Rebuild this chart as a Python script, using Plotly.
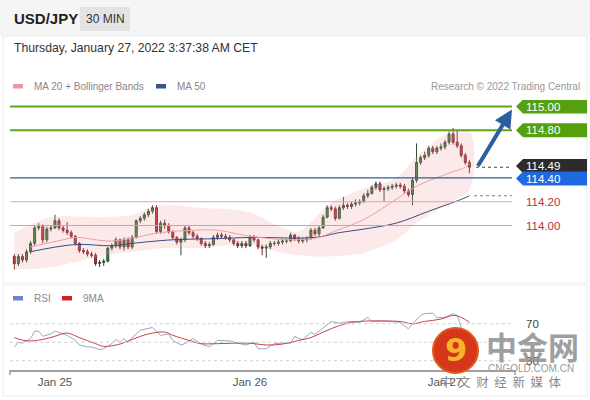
import plotly.graph_objects as go
import pandas as pd

# ---------------- data ----------------
start = "2022-01-24 19:00"   # first 30-min bar

opens = [113.74, 113.68, 113.74, 113.71, 113.78, 113.85, 113.98, 113.99, 113.88, 113.97,
         113.98, 114.04, 113.98, 113.96, 113.94, 113.91, 113.85, 113.79, 113.78, 113.76,
         113.75, 113.68, 113.69, 113.70, 113.81, 113.83, 113.88, 113.82, 113.88, 113.82,
         113.90, 114.04, 114.06, 114.09, 114.12, 114.15, 113.95, 114.02, 114.00, 113.95,
         113.90, 113.86, 113.88, 113.98, 113.94, 113.91, 113.89, 113.85, 113.83, 113.84,
         113.90, 113.92, 113.91, 113.90, 113.88, 113.85, 113.83, 113.85, 113.83, 113.90,
         113.88, 113.82, 113.81, 113.82, 113.85, 113.85, 113.86, 113.87, 113.87, 113.92,
         113.89, 113.87, 113.88, 113.89, 113.96, 113.93, 113.98, 114.07, 114.15, 114.14,
         114.06, 114.15, 114.17, 114.16, 114.18, 114.19, 114.20, 114.25, 114.27, 114.32,
         114.35, 114.30, 114.31, 114.32, 114.33, 114.34, 114.33, 114.29, 114.26, 114.38,
         114.53, 114.57, 114.59, 114.65, 114.62, 114.65, 114.66, 114.70, 114.77, 114.70,
         114.67, 114.59, 114.53]
highs = [113.76, 113.76, 113.76, 113.80, 113.87, 114.00, 114.02, 114.01, 113.99, 114.00,
         114.09, 114.06, 114.00, 114.03, 113.96, 113.92, 113.86, 113.81, 113.80, 113.78,
         113.77, 113.71, 113.72, 113.82, 113.85, 113.90, 113.89, 113.90, 113.90, 113.92,
         114.05, 114.08, 114.11, 114.14, 114.17, 114.17, 114.04, 114.05, 114.02, 113.96,
         113.91, 113.90, 114.00, 114.00, 113.96, 113.93, 113.90, 113.87, 113.86, 113.92,
         113.94, 113.94, 113.93, 113.92, 113.89, 113.87, 113.87, 113.87, 113.92, 113.92,
         113.89, 113.84, 113.84, 113.87, 113.87, 113.88, 113.89, 113.89, 113.94, 113.93,
         113.91, 113.90, 113.91, 113.98, 113.98, 114.00, 114.09, 114.17, 114.17, 114.16,
         114.17, 114.24, 114.19, 114.20, 114.22, 114.22, 114.27, 114.30, 114.34, 114.37,
         114.37, 114.33, 114.34, 114.35, 114.36, 114.36, 114.35, 114.31, 114.40, 114.69,
         114.59, 114.62, 114.67, 114.67, 114.67, 114.69, 114.72, 114.79, 114.82, 114.80,
         114.69, 114.61, 114.55]
lows = [113.63, 113.66, 113.69, 113.69, 113.76, 113.83, 113.96, 113.85, 113.86, 113.95,
        113.97, 113.96, 113.94, 113.92, 113.89, 113.83, 113.77, 113.76, 113.74, 113.73,
        113.66, 113.65, 113.66, 113.69, 113.79, 113.81, 113.80, 113.79, 113.80, 113.80,
        113.89, 114.02, 114.04, 114.07, 114.10, 113.93, 113.93, 113.97, 113.93, 113.88,
        113.84, 113.75, 113.86, 113.92, 113.89, 113.87, 113.83, 113.81, 113.81, 113.83,
        113.88, 113.89, 113.88, 113.86, 113.83, 113.81, 113.81, 113.81, 113.82, 113.86,
        113.80, 113.75, 113.73, 113.80, 113.83, 113.83, 113.84, 113.85, 113.86, 113.87,
        113.85, 113.85, 113.86, 113.88, 113.91, 113.91, 113.97, 114.06, 114.12, 114.04,
        114.05, 114.13, 114.14, 114.14, 114.16, 114.17, 114.19, 114.23, 114.26, 114.30,
        114.28, 114.20, 114.29, 114.30, 114.31, 114.31, 114.27, 114.24, 114.17, 114.36,
        114.51, 114.55, 114.57, 114.60, 114.60, 114.63, 114.64, 114.68, 114.68, 114.65,
        114.57, 114.51, 114.44]
closes = [113.68, 113.74, 113.71, 113.78, 113.85, 113.98, 113.99, 113.88, 113.97, 113.98,
          114.04, 113.98, 113.96, 113.94, 113.91, 113.85, 113.79, 113.78, 113.76, 113.75,
          113.68, 113.69, 113.70, 113.81, 113.83, 113.88, 113.82, 113.88, 113.82, 113.90,
          114.04, 114.06, 114.09, 114.12, 114.15, 113.95, 114.02, 114.00, 113.95, 113.90,
          113.86, 113.88, 113.98, 113.94, 113.91, 113.89, 113.85, 113.83, 113.84, 113.90,
          113.92, 113.91, 113.90, 113.88, 113.85, 113.83, 113.85, 113.83, 113.90, 113.88,
          113.82, 113.81, 113.82, 113.85, 113.85, 113.86, 113.87, 113.87, 113.92, 113.89,
          113.87, 113.88, 113.89, 113.96, 113.93, 113.98, 114.07, 114.15, 114.14, 114.06,
          114.15, 114.17, 114.16, 114.18, 114.19, 114.20, 114.25, 114.27, 114.32, 114.35,
          114.30, 114.31, 114.32, 114.33, 114.34, 114.33, 114.29, 114.26, 114.38, 114.53,
          114.57, 114.59, 114.65, 114.62, 114.65, 114.66, 114.70, 114.77, 114.70, 114.67,
          114.59, 114.53, 114.49]

# indicator readings (bar index -> value)
ma20_idx = [4, 12, 15, 24, 36, 44, 50, 58, 68, 75, 78, 86, 94, 99, 107, 111, 112]
ma20_val = [113.82, 113.88, 113.90, 113.87, 113.94, 113.96, 113.96, 113.91, 113.88, 113.90,
            113.94, 114.05, 114.22, 114.33, 114.44, 114.49, 114.52]
ma50_idx = [4, 15, 24, 29, 39, 50, 58, 74, 80, 86, 94, 102, 110, 112]
ma50_val = [113.78, 113.84, 113.83, 113.85, 113.88, 113.89, 113.90, 113.90, 113.94, 113.97,
            114.02, 114.12, 114.22, 114.25]
bb_up_idx = [0, 9, 21, 29, 35, 46, 58, 66, 70, 78, 86, 94, 99, 107, 112]
bb_up_val = [113.94, 114.07, 114.07, 114.09, 114.17, 114.15, 114.11, 113.98, 113.95, 114.19,
             114.31, 114.40, 114.58, 114.78, 114.79]
bb_lo_idx = [0, 9, 21, 29, 38, 46, 58, 66, 74, 82, 86, 94, 99, 107, 112]
bb_lo_val = [113.63, 113.65, 113.74, 113.78, 113.81, 113.81, 113.84, 113.77, 113.74, 113.75,
             113.77, 113.88, 114.02, 114.19, 114.30]

rsi_idx = [0, 1, 2, 4, 5, 6, 7, 9, 10, 12, 13, 15, 16, 18, 19, 21, 22, 24, 25, 26, 27, 28,
           29, 31, 33, 34, 36, 38, 39, 41, 42, 44, 46, 48, 50, 53, 55, 57, 59, 60, 62, 64,
           66, 68, 69, 70, 71, 73, 74, 76, 78, 80, 81, 83, 85, 87, 88, 91, 93, 95, 97, 98,
           100, 101, 103, 104, 106, 108, 109, 110, 111, 112]
rsi_val = [45, 50, 49, 54, 62, 62, 56.5, 59, 62, 59, 57.5, 52, 47, 45, 45, 42, 43, 48.5, 53,
           50, 54, 50, 55, 63, 64.5, 66, 57.5, 59, 52, 47, 48.5, 54, 48, 45, 52, 51.5, 49,
           47, 50, 43, 43, 48.5, 49, 49, 56.5, 54, 53, 60.5, 58.5, 66, 72.5, 70.5, 71.5,
           72.5, 71.5, 77, 72.5, 73, 72.5, 71.5, 64.5, 70, 79, 81, 81.5, 76.5, 77, 81, 79,
           66, 57, 50]
rsi_ma_idx = [0, 3, 7, 10, 13, 16, 20, 22, 26, 29, 33, 37, 39, 43, 46, 50, 54, 58, 62, 66,
              70, 73, 76, 80, 83, 87, 91, 95, 98, 101, 105, 108, 110, 112]
rsi_ma_val = [55, 51.5, 53, 56.5, 60, 55, 48.5, 45.5, 48, 53, 59, 61, 57.5, 52, 48.5, 48.5,
              49, 49, 47, 48, 52, 55, 61, 68, 71.5, 73, 73, 72.5, 70, 72.5, 75, 79, 77, 71.5]

levels = [115.00, 114.80, 114.40, 114.20, 114.00]
last_price = 114.49
tick_days = ["2022-01-25", "2022-01-26", "2022-01-27"]
tick_text = ["Jan 25", "Jan 26", "Jan 27"]

# ---------------- helpers (layout only) ----------------
W, H = 590, 400
L, R = 10, 515
def px(x):
    return (x - L) / (R - L)
def py(y):
    return 1 - y / H

times = pd.date_range(start, periods=len(closes), freq="30min")
def T(idx):
    return [times[i] for i in idx]

FONT = "Liberation Sans, Arial, sans-serif"

fig = go.Figure()

# Bollinger band cloud
fig.add_trace(go.Scatter(
    x=T(bb_up_idx) + T(bb_lo_idx)[::-1], y=bb_up_val + bb_lo_val[::-1],
    fill="toself", fillcolor="rgba(240,160,165,0.22)", line=dict(width=0),
    mode="lines", line_shape="spline", hoverinfo="skip", showlegend=False))
# MA50
fig.add_trace(go.Scatter(x=T(ma50_idx), y=ma50_val, mode="lines", line_shape="spline",
                         line=dict(color="#3b4a80", width=1), showlegend=False))
# MA20
fig.add_trace(go.Scatter(x=T(ma20_idx), y=ma20_val, mode="lines", line_shape="spline",
                         line=dict(color="#eaa2a6", width=1), showlegend=False))
# candles
fig.add_trace(go.Candlestick(
    x=times, open=opens, high=highs, low=lows, close=closes,
    increasing=dict(fillcolor="#3f8a3c", line=dict(color="#2c4a2c", width=1)),
    decreasing=dict(fillcolor="#cc3340", line=dict(color="#7a2228", width=1)),
    whiskerwidth=0, showlegend=False))

# RSI panel
fig.add_trace(go.Scatter(x=T(rsi_idx), y=rsi_val, yaxis="y2", mode="lines",
                         line=dict(color="#9aa6c4", width=1), showlegend=False))
fig.add_trace(go.Scatter(x=T(rsi_ma_idx), y=rsi_ma_val, yaxis="y2", mode="lines",
                         line_shape="spline",
                         line=dict(color="#c8444c", width=1), showlegend=False))

shapes = []
ann = []

def text(x, y, s, size, color, anchor="left", family=FONT, **kw):
    ann.append(dict(xref="paper", yref="paper", x=px(x), y=py(y), text=s, showarrow=False,
                    xanchor=anchor, yanchor="middle",
                    font=dict(color=color, size=size, family=family), **kw))

# header background
shapes.append(dict(type="rect", xref="paper", yref="paper", x0=px(0), x1=px(590),
                   y0=py(36), y1=py(0), fillcolor="#f5f5f5", line=dict(width=0), layer="below"))
shapes.append(dict(type="rect", xref="paper", yref="paper", x0=px(80), x1=px(130),
                   y0=py(31), y1=py(7), fillcolor="#e3e3e3", line=dict(width=0)))
# panel frames
shapes.append(dict(type="rect", xref="paper", yref="paper", x0=px(3), x1=px(587),
                   y0=py(283), y1=py(36), line=dict(color="#ececec", width=1)))
shapes.append(dict(type="rect", xref="paper", yref="paper", x0=px(3), x1=px(587),
                   y0=py(396), y1=py(285), line=dict(color="#ececec", width=1)))

# level lines
lvl_style = {115.00: ("#5fa51c", 2), 114.80: ("#5fa51c", 2), 114.40: ("#2e5c9e", 1.3),
             114.20: ("#e2a79a", 1), 114.00: ("#e09a9a", 1)}
for lv in levels:
    c, w = lvl_style[lv]
    shapes.append(dict(type="line", xref="paper", yref="y", x0=0, x1=px(512),
                       y0=lv, y1=lv, line=dict(color=c, width=w)))

# dotted guides
shapes.append(dict(type="line", xref="paper", yref="y", x0=px(476), x1=px(512),
                   y0=last_price, y1=last_price, line=dict(color="#444", width=1, dash="dot")))
shapes.append(dict(type="line", xref="paper", yref="y", x0=px(474), x1=px(512),
                   y0=ma50_val[-1], y1=ma50_val[-1], line=dict(color="#777", width=1, dash="dot")))

# right labels (arrow-shaped boxes)
def tag(price, color, dy=0.0):
    h = 7 / 119.0
    p = price + dy
    x0, xn, x1 = px(516), px(523), px(587)
    path = (f"M {x0},{p} L {xn},{p + h} L {x1},{p + h} L {x1},{p - h} L {xn},{p - h} Z")
    shapes.append(dict(type="path", xref="paper", yref="y", path=path,
                       fillcolor=color, line=dict(width=0)))
    ann.append(dict(xref="paper", yref="y", x=px(524), y=p, text=f"{price:.2f}",
                    showarrow=False, xanchor="left", yanchor="middle",
                    font=dict(color="white", size=11.5, family=FONT)))

tag(115.00, "#55a00e")
tag(114.80, "#55a00e")
tag(last_price, "#2b2b2b", dy=0.01)
tag(114.40, "#1f6ae0", dy=-0.005)
for lv in (114.20, 114.00):
    ann.append(dict(xref="paper", yref="y", x=px(524), y=lv, text=f"{lv:.2f}",
                    showarrow=False, xanchor="left", yanchor="middle",
                    font=dict(color="#b8323c", size=11.5, family=FONT)))

# blue forecast arrow
ann.append(dict(xref="paper", yref="y", x=px(512), y=114.975, ax=-35, ay=58,
                axref="pixel", ayref="pixel", text="", showarrow=True,
                arrowhead=2, arrowsize=0.9, arrowwidth=4, arrowcolor="#2d5d9e"))

# RSI guide lines
for lv in (70, 50, 30):
    shapes.append(dict(type="line", xref="paper", yref="y2", x0=0, x1=px(513),
                       y0=lv, y1=lv, line=dict(color="#cfcfcf", width=1, dash="dot")))
for lv in (70, 30):
    ann.append(dict(xref="paper", yref="y2", x=px(524), y=lv, text=str(lv), showarrow=False,
                    xanchor="left", yanchor="middle",
                    font=dict(color="#444", size=11.5, family=FONT)))
# axis end ticks
for xx in (10, 515):
    shapes.append(dict(type="line", xref="paper", yref="paper", x0=px(xx), x1=px(xx),
                       y0=py(375), y1=py(370), line=dict(color="#9e9e9e", width=1.5)))

# header texts
text(12, 19, "<b>USD/JPY</b>", 15, "#222")
text(105, 19, "30 MIN", 12, "#333", anchor="center")
text(12, 48, "Thursday, January 27, 2022 3:37:38 AM CET", 12.2, "#333")

# main legend
shapes.append(dict(type="rect", xref="paper", yref="paper", x0=px(13), x1=px(23),
                   y0=py(88.5), y1=py(84), fillcolor="#e79aa4", line=dict(width=0)))
shapes.append(dict(type="rect", xref="paper", yref="paper", x0=px(156), x1=px(166),
                   y0=py(88.5), y1=py(84), fillcolor="#3d5488", line=dict(width=0)))
text(32, 86.5, "MA 20 + Bollinger Bands", 10, "#888")
text(175, 86.5, "MA 50", 10, "#888")
text(582, 86.5, "Research © 2022 Trading Central", 10, "#999", anchor="right")

# RSI legend
shapes.append(dict(type="rect", xref="paper", yref="paper", x0=px(13), x1=px(23),
                   y0=py(300.5), y1=py(296), fillcolor="#6b87c6", line=dict(width=0)))
shapes.append(dict(type="rect", xref="paper", yref="paper", x0=px(62), x1=px(72),
                   y0=py(300.5), y1=py(296), fillcolor="#d41f26", line=dict(width=0)))
text(32, 298.5, "RSI", 10, "#888")
text(81, 298.5, "9MA", 10, "#888")

# watermark (cngold)
shapes.append(dict(type="circle", xref="paper", yref="paper", x0=px(433), x1=px(478),
                   y0=py(373), y1=py(328), fillcolor="#d6361a", line=dict(color="#e05a1e", width=2)))
text(456, 350, "<b>9</b>", 32, "#f6b42c", anchor="center", family="DejaVu Sans")
text(532, 345, "<b>中金网</b>", 31, "#8f8f8f", anchor="center", family="Noto Sans CJK SC",
     opacity=0.85)
text(531, 368.5, "CNGOLD.COM.CN", 10, "#9a9a9a", anchor="center")
text(501, 381.5, "中  文  财  经  新  媒  体", 12.5, "#8a8a8a", anchor="center",
     family="Noto Sans CJK SC")

x_lo = pd.Timestamp("2022-01-24 18:28")
x_hi = pd.Timestamp("2022-01-27 08:37")

fig.update_layout(
    width=W, height=H,
    margin=dict(l=L, r=W - R, t=0, b=0, autoexpand=False),
    paper_bgcolor="white", plot_bgcolor="white",
    showlegend=False,
    font=dict(family=FONT),
    xaxis=dict(domain=[0, 1], range=[x_lo, x_hi], anchor="y2", type="date",
               rangeslider=dict(visible=False), showgrid=False, zeroline=False,
               showline=True, linecolor="#a0a0a0", linewidth=1.5,
               tickvals=tick_days, ticktext=tick_text, ticks="",
               tickfont=dict(color="#555", size=11.5, family=FONT)),
    yaxis=dict(domain=[py(280), py(100)], range=[113.542, 115.055], visible=False,
               fixedrange=True),
    yaxis2=dict(domain=[py(370), py(296)], range=[20, 100], visible=False),
    shapes=shapes, annotations=ann,
)

fig.write_html("out.html", config={"displayModeBar": False},
               post_script="document.body.style.margin='0px';")
